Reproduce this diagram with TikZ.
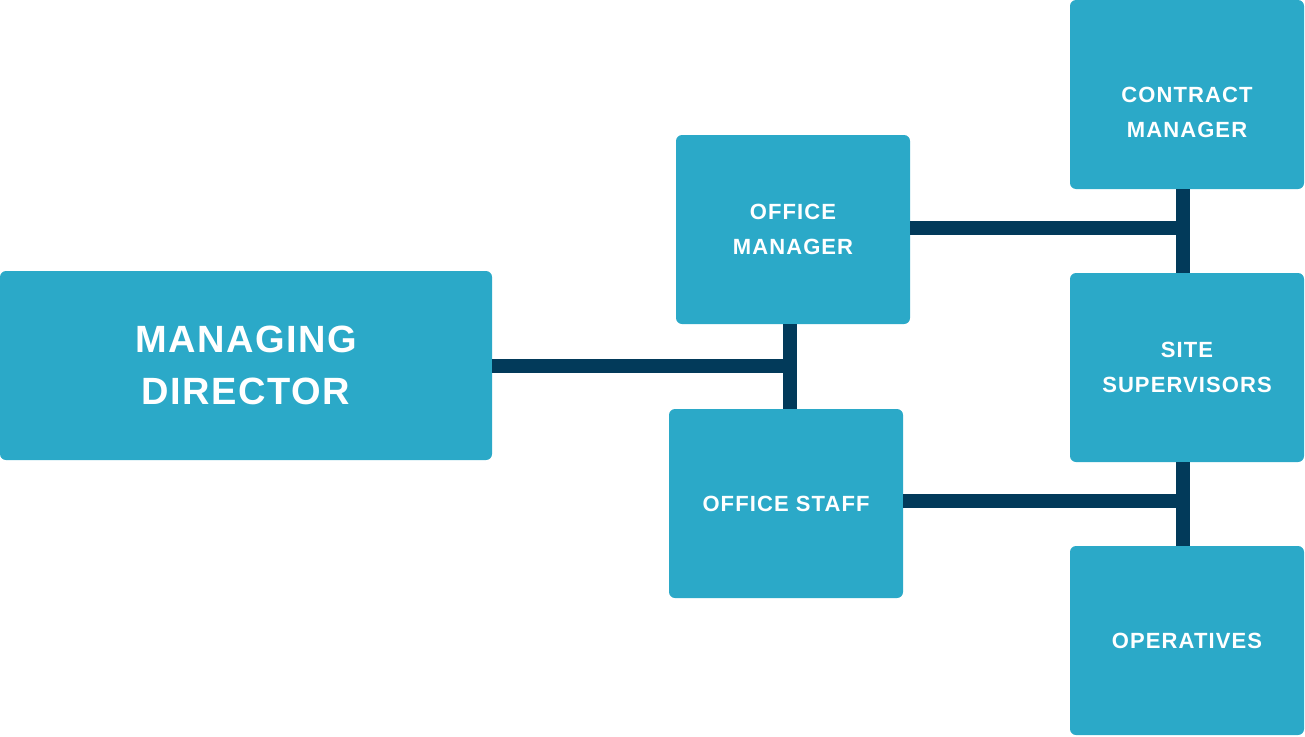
\documentclass[tikz,border=0pt]{standalone}
\usepackage{fontspec}
\setmainfont{Liberation Sans}
\newfontfamily\unitfont[LetterSpace=5]{Liberation Sans}
\newfontfamily\headfont[LetterSpace=4]{Liberation Sans}
\definecolor{unitblue}{HTML}{2BA9C8}
\definecolor{linknavy}{HTML}{023A5A}

\begin{document}
\begin{tikzpicture}[x=0.75pt, y=-0.75pt,
		unit/.style={fill=unitblue, rounded corners=4.5pt, inner sep=0pt, outer sep=0pt,
			minimum width=175.5pt, minimum height=141.75pt, text=white, align=center,
			font=\unitfont\bfseries\fontsize{16.5pt}{26.25pt}\selectfont},
		head/.style={unit, minimum width=369pt,
			font=\headfont\bfseries\fontsize{28.5pt}{38.5pt}\selectfont},
		unittext/.style={text=white, align=center, inner sep=0pt,
			font=\unitfont\bfseries\fontsize{16.5pt}{26.25pt}\selectfont},
		link/.style={draw=linknavy, line width=10.5pt}]
		%%%%% START %%%%%
		\useasboundingbox (0, 0) rectangle (1305, 736);
		
		\node[head] (md) at (246, 365.5) {MANAGING\\DIRECTOR};
		
		\node[unit] (om) at (793, 229.5) {OFFICE\\MANAGER};
		\node[unit] (os) at (786, 503.5) {OFFICE STAFF};
		
		\node[unit, label={[unittext, yshift=-13.5pt]center:CONTRACT\\MANAGER}] (cm) at (1187, 94.5) {};
		\node[unit] (ss) at (1187, 367.5) {SITE\\SUPERVISORS};
		\node[unit] (op) at (1187, 640.5) {OPERATIVES};
		
		\coordinate (j1) at (790, 365.5);
		\coordinate (j2) at (1183, 228);
		\coordinate (j3) at (1183, 501);
		
		\draw[link] (md.east) -- (j1);
		\draw[link] (om.south -| j1) -- (os.north -| j1);
		
		\draw[link] (om.east |- j2) -- (j2);
		\draw[link] (cm.south -| j2) -- (ss.north -| j2);
		
		\draw[link] (os.east |- j3) -- (j3);
		\draw[link] (ss.south -| j3) -- (op.north -| j3);
		%%%%% END %%%%%
	\end{tikzpicture}
\end{document}
